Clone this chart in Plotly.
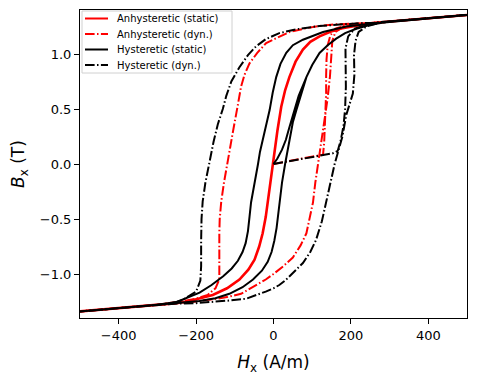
import plotly.graph_objects as go

# ---------------- data ----------------
# shared saturation tails
sat_up_H = [300, 350, 400, 450, 500]
sat_up_B = [1.295, 1.31, 1.325, 1.34, 1.355]
sat_lo_H = [-500, -450, -400, -350, -300]
sat_lo_B = [-1.34, -1.325, -1.31, -1.295, -1.28]

# Anhysteretic (static)
anh_st_H = [-500, -450, -400, -350, -300, -250, -217, -157, -120, -88, -65, -49, -37, -28, -20,
            -15, -8, -2, 3, 10, 20, 30, 41, 57, 76, 95, 119, 145, 171, 214, 250,
            300, 350, 400, 450, 500]
anh_st_B = [-1.34, -1.325, -1.31, -1.295, -1.28, -1.265, -1.245, -1.19, -1.13, -1.05, -0.96, -0.87,
            -0.75, -0.63, -0.48, -0.35, -0.17, 0.0, 0.14, 0.30, 0.52, 0.67, 0.79, 0.93, 1.04,
            1.11, 1.16, 1.20, 1.23, 1.26, 1.28, 1.295, 1.31, 1.325, 1.34, 1.355]

# Anhysteretic (dyn.)
anh_dy_init_H = [0, 60, 100, 128, 131, 133, 135, 136, 136, 137, 140, 147, 160, 190, 250]
anh_dy_init_B = [0, 0.04, 0.065, 0.085, 0.2, 0.35, 0.5, 0.65, 0.8, 0.95, 1.08, 1.17, 1.23, 1.265, 1.28]
anh_dy_desc_H = [250, 200, 160, 119, 85, 41, 10, -19, -42, -62, -75, -84, -92, -100, -105, -112,
                 -120, -128, -135, -139, -140, -141, -140, -140, -150, -170, -200, -250]
anh_dy_desc_B = [1.28, 1.275, 1.27, 1.255, 1.235, 1.20, 1.15, 1.10, 1.01, 0.915, 0.81, 0.70, 0.54,
                 0.40, 0.29, 0.15, 0.0, -0.17, -0.34, -0.5, -0.63, -0.8, -0.95, -1.05, -1.13,
                 -1.19, -1.225, -1.255]
anh_dy_asc_H = [-250, -200, -157, -120, -84, -49, -20, 0, 25, 50, 70, 85, 95, 102, 108, 115, 123,
                132, 140, 146, 149, 152, 160, 180, 215, 250]
anh_dy_asc_B = [-1.265, -1.25, -1.23, -1.21, -1.18, -1.11, -1.05, -1.0, -0.93, -0.85, -0.74, -0.63,
                -0.48, -0.35, -0.17, 0.0, 0.23, 0.445, 0.6, 0.8, 1.0, 1.12, 1.2, 1.245, 1.265, 1.28]

# Hysteretic (static)
hys_st_init_H = [0, 10, 22, 32, 40, 48, 56, 65, 85, 100, 119, 140, 162, 185, 214, 250]
hys_st_init_B = [0, 0.05, 0.13, 0.22, 0.32, 0.42, 0.52, 0.62, 0.79, 0.9, 1.01, 1.08, 1.14, 1.19, 1.23, 1.265]
hys_st_desc_H = [250, 188, 128, 76, 50, 33, 18, 7, -2, -10, -18, -28, -35, -40, -46, -52, -58,
                 -62, -66, -72, -80, -92, -108, -130, -160, -191, -220, -250]
hys_st_desc_B = [1.275, 1.25, 1.20, 1.13, 1.08, 1.01, 0.91, 0.79, 0.65, 0.49, 0.37, 0.23, 0.11,
                 0.0, -0.12, -0.24, -0.35, -0.48, -0.61, -0.72, -0.80, -0.88, -0.95, -1.02,
                 -1.10, -1.17, -1.215, -1.255]
hys_st_asc_H = [-250, -191, -150, -114, -80, -53, -30, -15, -5, 2, 8, 12, 16, 22, 30, 36, 41, 50,
                59, 63, 72, 85, 100, 119, 140, 162, 185, 214, 250]
hys_st_asc_B = [-1.265, -1.245, -1.22, -1.18, -1.12, -1.05, -0.97, -0.89, -0.80, -0.70, -0.58,
                -0.46, -0.33, -0.17, 0.0, 0.12, 0.23, 0.38, 0.49, 0.54, 0.65, 0.79, 0.9, 1.01,
                1.08, 1.14, 1.19, 1.23, 1.265]

# Hysteretic (dyn.)
hys_dy_init_H = [0, 80, 153, 166, 174, 181, 185, 187, 186, 186, 193, 210, 240, 270]
hys_dy_init_B = [0, 0.05, 0.097, 0.12, 0.22, 0.35, 0.5, 0.7, 0.9, 1.05, 1.16, 1.23, 1.265, 1.285]
hys_dy_desc_H = [260, 222, 170, 119, 60, 15, -20, -45, -66, -88, -109, -122, -131, -144, -155,
                 -167, -176, -183, -186, -187, -187, -189, -200, -235, -256]
hys_dy_desc_B = [1.285, 1.28, 1.27, 1.255, 1.225, 1.19, 1.135, 1.07, 0.99, 0.88, 0.75, 0.62, 0.5,
                 0.36, 0.2, 0.0, -0.17, -0.34, -0.5, -0.7, -0.93, -1.06, -1.16, -1.235, -1.26]
hys_dy_asc_H = [-256, -200, -157, -110, -71, -49, -20, 0, 15, 30, 45, 63, 76, 95, 110, 125, 136,
                148, 158, 170, 178, 188, 197, 205, 209, 208, 212, 220, 240, 270]
hys_dy_asc_B = [-1.27, -1.265, -1.255, -1.24, -1.225, -1.20, -1.16, -1.13, -1.10, -1.06, -1.01,
                -0.95, -0.90, -0.80, -0.69, -0.52, -0.35, -0.17, 0.0, 0.15, 0.25, 0.445, 0.54,
                0.64, 0.81, 0.99, 1.12, 1.2, 1.25, 1.28]

series_names = ["Anhysteretic (static)", "Anhysteretic (dyn.)",
                "Hysteretic (static)", "Hysteretic (dyn.)"]
x_ticks = [-400, -200, 0, 200, 400]
y_ticks = [-1.0, -0.5, 0.0, 0.5, 1.0]


def cycle(init_H, init_B, desc_H, desc_B, asc_H, asc_B):
    H = (init_H + sat_up_H + sat_up_H[::-1] + desc_H + sat_lo_H[::-1]
         + sat_lo_H + asc_H + sat_up_H)
    B = (init_B + sat_up_B + sat_up_B[::-1] + desc_B + sat_lo_B[::-1]
         + sat_lo_B + asc_B + sat_up_B)
    return H, B


DASHDOT = "9.6px,2.4px,1.5px,2.4px"
LW = 2
styles = [dict(color="red", width=2.6),
          dict(color="red", width=LW, dash=DASHDOT),
          dict(color="black", width=LW),
          dict(color="black", width=LW, dash=DASHDOT)]

curves = [
    (anh_st_H, anh_st_B),
    cycle(anh_dy_init_H, anh_dy_init_B, anh_dy_desc_H, anh_dy_desc_B, anh_dy_asc_H, anh_dy_asc_B),
    cycle(hys_st_init_H, hys_st_init_B, hys_st_desc_H, hys_st_desc_B, hys_st_asc_H, hys_st_asc_B),
    cycle(hys_dy_init_H, hys_dy_init_B, hys_dy_desc_H, hys_dy_desc_B, hys_dy_asc_H, hys_dy_asc_B),
]

fig = go.Figure()
for (H, B), name, st in zip(curves, series_names, styles):
    fig.add_trace(go.Scatter(x=H, y=B, mode="lines", name=name, line=st, showlegend=False))

# ---------------- layout ----------------
# the page body adds an 8px offset, so the figure is 8px smaller and shifted
OFF = 8
W, HGT = 477 - OFF, 378 - OFF
ML, MR, MT, MB = 80 - OFF, 10, 10 - OFF, 60
PW, PH = W - ML - MR, HGT - MT - MB


def px2paper(px, py):
    # px, py are page pixel coordinates (as in the reference picture)
    return (px - OFF - ML) / PW, (HGT - MB - (py - OFF)) / PH


axis_common = dict(showline=True, linecolor="black", linewidth=1, mirror=True,
                   ticks="outside", ticklen=5, tickwidth=1, tickcolor="black",
                   showgrid=False, zeroline=False, automargin=False,
                   tickfont=dict(family="DejaVu Sans", size=13, color="black"))

fig.update_xaxes(range=[-500, 500], tickvals=x_ticks,
                 title=dict(text="<i>H</i><sub>x</sub> (A/m)", standoff=14,
                            font=dict(family="DejaVu Sans", size=17, color="black")),
                 **axis_common)
fig.update_yaxes(range=[-1.4, 1.4], tickvals=y_ticks, tickformat=".1f",
                 title=dict(text="<i>B</i><sub>x</sub> (T)", standoff=19,
                            font=dict(family="DejaVu Sans", size=17, color="black")),
                 **axis_common)

# matplotlib-style legend box (upper left, inside axes)
shapes = []
annotations = []
bx0, by0 = px2paper(82, 11)
bx1, by1 = px2paper(232, 73)
shapes.append(dict(type="rect", xref="paper", yref="paper", x0=bx0, x1=bx1, y0=by1, y1=by0,
                   line=dict(color="#d0d0d0", width=1), fillcolor="rgba(255,255,255,0.8)",
                   layer="above"))
row_y = [18.5, 34, 49.5, 65]
for name, st, ry in zip(series_names, styles, row_y):
    lx0, ly = px2paper(85, ry)
    lx1, _ = px2paper(108, ry)
    sl = dict(color=st["color"], width=2)
    if "dash" in st:
        sl["dash"] = st["dash"]
    shapes.append(dict(type="line", xref="paper", yref="paper", x0=lx0, x1=lx1, y0=ly, y1=ly,
                       line=sl, layer="above"))
    tx, _ = px2paper(115, ry)
    annotations.append(dict(text=name, xref="paper", yref="paper", x=tx, y=ly,
                            xanchor="left", yanchor="middle", showarrow=False,
                            font=dict(family="DejaVu Sans", size=10, color="black")))

fig.update_layout(
    width=W, height=HGT,
    margin=dict(l=ML, r=MR, t=MT, b=MB),
    paper_bgcolor="white", plot_bgcolor="white",
    font=dict(family="DejaVu Sans", color="black"),
    showlegend=False,
    shapes=shapes, annotations=annotations,
)

fig.write_html("out.html")
